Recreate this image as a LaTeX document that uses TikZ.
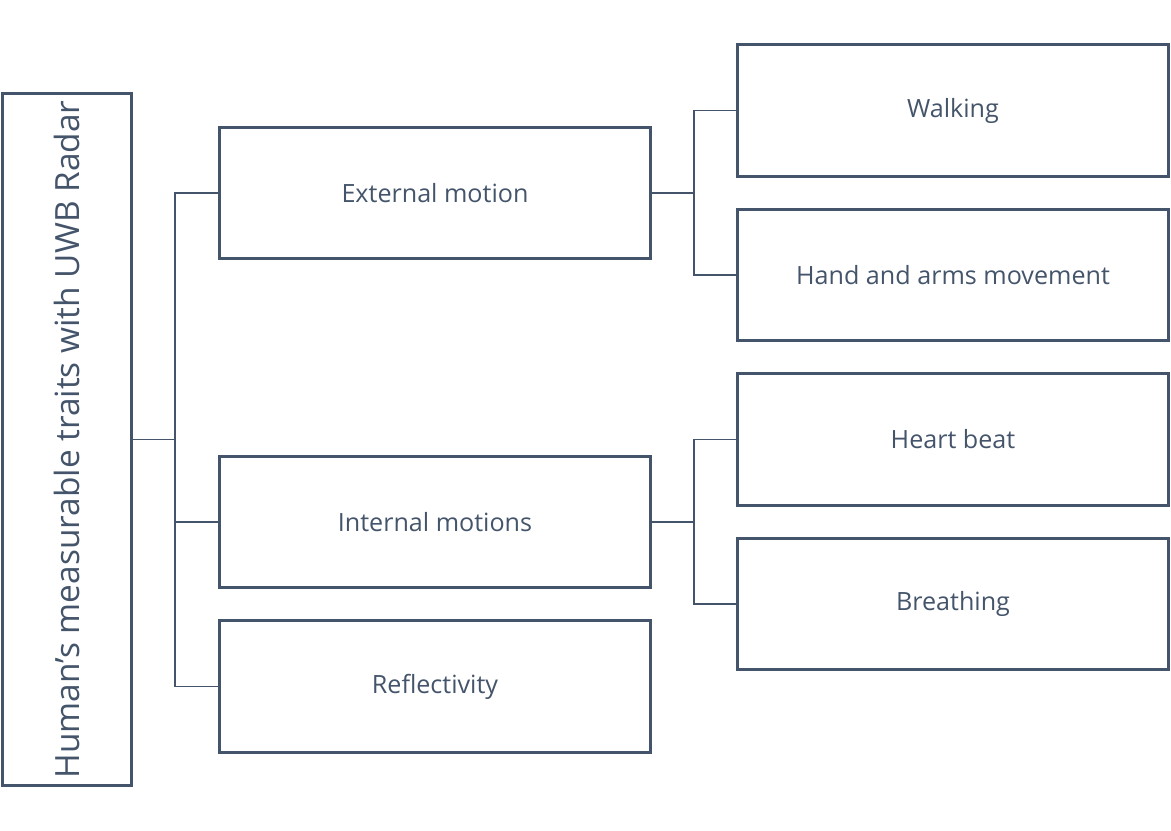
\documentclass[tikz,border=0pt]{standalone}
\usepackage{fontspec}
\setmainfont{Open Sans}
\definecolor{slate}{HTML}{44546A}

\begin{document}
\begin{tikzpicture}[x=0.02cm,y=-0.02cm,
box/.style={draw=slate,line width=1.7pt,text=slate,minimum width=8.64cm,minimum height=2.64cm,inner sep=0pt,font=\fontsize{14.3}{17}\selectfont},
link/.style={draw=slate,line width=0.85pt}]
\useasboundingbox (0,0) rectangle (1171,831);
% root
\node[box,rotate=90,minimum width=13.86cm,minimum height=2.6cm,font=\fontsize{19}{22}\selectfont] (root) at (67,439.5) {Human’s measurable traits with UWB Radar};
% first level
\node[box] (ext) at (435,193) {External motion};
\node[box] (int) at (435,522) {Internal motions};
\node[box] (refl) at (435,686.5) {Reflectivity};
% second level
\node[box] (walk) at (953,110.5) {Walking};
\node[box] (hand) at (953,275) {Hand and arms movement};
\node[box] (heart) at (953,439.5) {Heart beat};
\node[box] (breath) at (953,604) {Breathing};
% connectors
\coordinate (j0) at (175,439.5);
\coordinate (j1) at (694,193);
\coordinate (j2) at (694,522);
\draw[link] (root.south) -- (j0);
\foreach \n in {ext,int,refl} \draw[link] (j0) |- (\n.west);
\draw[link] (ext.east) -- (j1);
\foreach \n in {walk,hand} \draw[link] (j1) |- (\n.west);
\draw[link] (int.east) -- (j2);
\foreach \n in {heart,breath} \draw[link] (j2) |- (\n.west);
\end{tikzpicture}
\end{document}
